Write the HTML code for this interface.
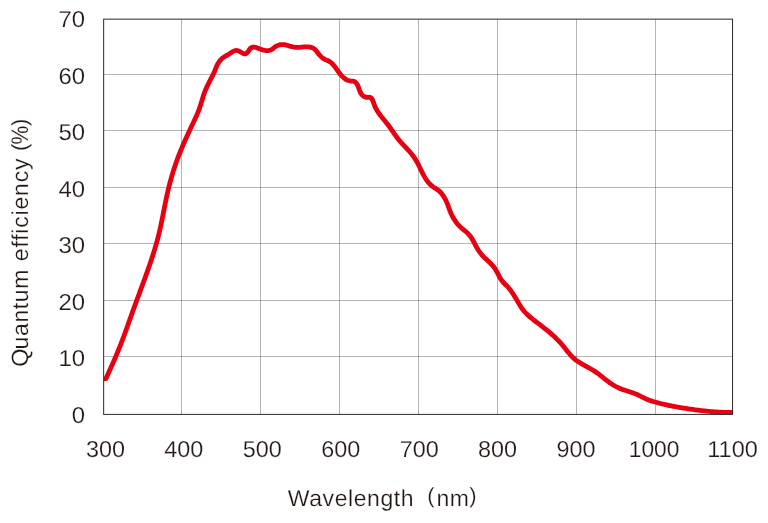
<!DOCTYPE html>
<html><head><meta charset="utf-8"><title>Quantum efficiency</title>
<style>
html,body{margin:0;padding:0;background:#fff;}
body{width:768px;height:523px;overflow:hidden;}
svg{display:block;will-change:transform;}
.t{text-rendering:geometricPrecision;font-family:"Liberation Sans",sans-serif;fill:#231815;stroke:#fff;stroke-width:0.2px;}
</style></head><body>
<svg width="768" height="523" viewBox="0 0 768 523">
<rect width="768" height="523" fill="#fff"/>
<defs><clipPath id="c"><polygon points="103.65,19.15 732.9399999999999,19.15 732.9399999999999,414.4 110,414.4 110,380.3 103.65,381.3"/></clipPath></defs>
<line x1="181.5" y1="19.15" x2="181.5" y2="414.4" stroke="#222222" stroke-width="0.34"/>
<line x1="260.5" y1="19.15" x2="260.5" y2="414.4" stroke="#222222" stroke-width="0.34"/>
<line x1="339.5" y1="19.15" x2="339.5" y2="414.4" stroke="#222222" stroke-width="0.34"/>
<line x1="418.5" y1="19.15" x2="418.5" y2="414.4" stroke="#222222" stroke-width="0.34"/>
<line x1="497.5" y1="19.15" x2="497.5" y2="414.4" stroke="#222222" stroke-width="0.34"/>
<line x1="576.5" y1="19.15" x2="576.5" y2="414.4" stroke="#222222" stroke-width="0.34"/>
<line x1="655.5" y1="19.15" x2="655.5" y2="414.4" stroke="#222222" stroke-width="0.34"/>
<line x1="103.65" y1="74.5" x2="732.54" y2="74.5" stroke="#222222" stroke-width="0.34"/>
<line x1="103.65" y1="130.5" x2="732.54" y2="130.5" stroke="#222222" stroke-width="0.34"/>
<line x1="103.65" y1="187.5" x2="732.54" y2="187.5" stroke="#222222" stroke-width="0.34"/>
<line x1="103.65" y1="243.5" x2="732.54" y2="243.5" stroke="#222222" stroke-width="0.34"/>
<line x1="103.65" y1="300.5" x2="732.54" y2="300.5" stroke="#222222" stroke-width="0.34"/>
<line x1="103.65" y1="356.5" x2="732.54" y2="356.5" stroke="#222222" stroke-width="0.34"/>
<path clip-path="url(#c)" d="M102.79 385.38 C102.92 385.09 103.33 384.20 103.61 383.60 C103.88 383.01 104.15 382.41 104.43 381.82 C104.70 381.22 104.98 380.62 105.25 380.03 C105.53 379.43 105.80 378.83 106.08 378.23 C106.35 377.63 106.63 377.03 106.91 376.43 C107.18 375.83 107.46 375.23 107.73 374.62 C108.01 374.02 108.28 373.42 108.56 372.81 C108.84 372.21 109.11 371.60 109.39 371.00 C109.66 370.39 109.94 369.79 110.21 369.18 C110.48 368.57 110.76 367.96 111.03 367.35 C111.30 366.75 111.58 366.14 111.85 365.53 C112.12 364.92 112.39 364.31 112.66 363.69 C112.93 363.08 113.20 362.47 113.47 361.86 C113.74 361.25 114.01 360.63 114.27 360.02 C114.54 359.41 114.81 358.79 115.07 358.18 C115.34 357.56 115.60 356.95 115.86 356.33 C116.12 355.71 116.38 355.10 116.64 354.48 C116.90 353.86 117.16 353.25 117.42 352.63 C117.67 352.01 117.93 351.39 118.18 350.77 C118.44 350.15 118.69 349.53 118.94 348.91 C119.19 348.29 119.44 347.67 119.68 347.05 C119.93 346.43 120.17 345.81 120.42 345.19 C120.66 344.57 120.90 343.95 121.14 343.33 C121.38 342.70 121.62 342.08 121.86 341.46 C122.10 340.84 122.33 340.21 122.57 339.59 C122.80 338.97 123.04 338.34 123.27 337.72 C123.50 337.09 123.74 336.47 123.97 335.85 C124.20 335.22 124.43 334.60 124.66 333.97 C124.88 333.35 125.11 332.72 125.34 332.10 C125.57 331.47 125.79 330.84 126.02 330.22 C126.25 329.59 126.47 328.97 126.70 328.34 C126.92 327.72 127.15 327.09 127.37 326.46 C127.59 325.84 127.82 325.21 128.04 324.58 C128.26 323.96 128.49 323.33 128.71 322.71 C128.93 322.08 129.16 321.45 129.38 320.83 C129.60 320.20 129.82 319.57 130.05 318.95 C130.27 318.32 130.49 317.69 130.71 317.07 C130.94 316.44 131.16 315.81 131.38 315.19 C131.61 314.56 131.83 313.93 132.06 313.31 C132.28 312.68 132.51 312.05 132.73 311.43 C132.96 310.80 133.18 310.17 133.41 309.55 C133.63 308.92 133.86 308.30 134.09 307.67 C134.32 307.04 134.54 306.42 134.77 305.79 C135.00 305.17 135.23 304.54 135.46 303.92 C135.69 303.29 135.92 302.66 136.15 302.04 C136.38 301.41 136.61 300.79 136.84 300.16 C137.07 299.54 137.30 298.91 137.53 298.29 C137.76 297.66 137.99 297.04 138.23 296.41 C138.46 295.78 138.69 295.16 138.92 294.53 C139.15 293.91 139.38 293.28 139.61 292.66 C139.85 292.03 140.08 291.41 140.31 290.78 C140.54 290.15 140.77 289.53 141.00 288.90 C141.23 288.28 141.46 287.65 141.69 287.02 C141.93 286.40 142.16 285.77 142.39 285.15 C142.62 284.52 142.85 283.89 143.08 283.27 C143.31 282.64 143.54 282.01 143.76 281.39 C143.99 280.76 144.22 280.13 144.45 279.50 C144.68 278.88 144.91 278.25 145.13 277.62 C145.36 276.99 145.59 276.37 145.81 275.74 C146.04 275.11 146.26 274.48 146.49 273.85 C146.71 273.23 146.94 272.60 147.16 271.97 C147.38 271.34 147.61 270.71 147.83 270.08 C148.05 269.45 148.27 268.82 148.49 268.19 C148.71 267.56 148.93 266.93 149.15 266.30 C149.37 265.67 149.58 265.04 149.80 264.41 C150.02 263.77 150.23 263.14 150.45 262.51 C150.66 261.88 150.87 261.25 151.09 260.61 C151.30 259.98 151.51 259.35 151.72 258.72 C151.93 258.08 152.13 257.45 152.34 256.81 C152.55 256.18 152.75 255.55 152.95 254.91 C153.16 254.28 153.36 253.64 153.56 253.00 C153.76 252.37 153.96 251.73 154.16 251.10 C154.35 250.46 154.55 249.82 154.74 249.18 C154.93 248.55 155.12 247.91 155.31 247.27 C155.50 246.63 155.69 245.99 155.88 245.35 C156.06 244.71 156.24 244.07 156.43 243.43 C156.61 242.79 156.78 242.15 156.96 241.51 C157.14 240.87 157.31 240.23 157.48 239.58 C157.66 238.94 157.82 238.30 157.99 237.66 C158.16 237.01 158.32 236.37 158.48 235.72 C158.65 235.08 158.81 234.43 158.96 233.79 C159.12 233.14 159.27 232.49 159.42 231.85 C159.58 231.20 159.72 230.55 159.87 229.90 C160.02 229.25 160.16 228.61 160.31 227.96 C160.45 227.31 160.59 226.66 160.73 226.01 C160.87 225.36 161.01 224.71 161.14 224.06 C161.28 223.41 161.41 222.75 161.55 222.10 C161.68 221.45 161.81 220.80 161.95 220.15 C162.08 219.50 162.21 218.84 162.34 218.19 C162.47 217.54 162.60 216.88 162.72 216.23 C162.85 215.58 162.98 214.93 163.11 214.27 C163.24 213.62 163.36 212.97 163.49 212.31 C163.62 211.66 163.74 211.00 163.87 210.35 C164.00 209.70 164.13 209.04 164.26 208.39 C164.38 207.74 164.51 207.08 164.64 206.43 C164.77 205.77 164.90 205.12 165.03 204.47 C165.16 203.81 165.29 203.16 165.43 202.51 C165.56 201.85 165.69 201.20 165.83 200.55 C165.96 199.89 166.10 199.24 166.24 198.59 C166.38 197.94 166.52 197.28 166.66 196.63 C166.80 195.98 166.94 195.33 167.09 194.67 C167.23 194.02 167.38 193.37 167.53 192.72 C167.68 192.07 167.83 191.42 167.98 190.77 C168.14 190.12 168.29 189.47 168.45 188.82 C168.61 188.17 168.77 187.52 168.93 186.87 C169.09 186.22 169.25 185.58 169.42 184.93 C169.58 184.28 169.75 183.63 169.92 182.99 C170.09 182.34 170.26 181.69 170.44 181.05 C170.61 180.40 170.79 179.76 170.97 179.12 C171.15 178.47 171.33 177.83 171.51 177.19 C171.69 176.54 171.88 175.90 172.07 175.26 C172.25 174.62 172.44 173.98 172.64 173.34 C172.83 172.70 173.03 172.06 173.22 171.42 C173.42 170.79 173.62 170.15 173.82 169.51 C174.03 168.88 174.23 168.24 174.44 167.61 C174.64 166.97 174.85 166.34 175.07 165.71 C175.28 165.07 175.50 164.44 175.71 163.81 C175.93 163.18 176.15 162.55 176.37 161.92 C176.60 161.30 176.82 160.67 177.05 160.04 C177.28 159.42 177.51 158.79 177.74 158.17 C177.98 157.54 178.21 156.92 178.45 156.30 C178.69 155.68 178.93 155.06 179.18 154.44 C179.42 153.82 179.67 153.20 179.91 152.58 C180.16 151.96 180.41 151.34 180.66 150.73 C180.92 150.11 181.17 149.50 181.43 148.88 C181.68 148.27 181.94 147.65 182.20 147.04 C182.46 146.43 182.72 145.82 182.99 145.20 C183.25 144.59 183.52 143.98 183.78 143.37 C184.05 142.76 184.32 142.15 184.59 141.54 C184.86 140.93 185.13 140.33 185.40 139.72 C185.67 139.11 185.95 138.50 186.22 137.90 C186.49 137.29 186.77 136.68 187.05 136.08 C187.32 135.47 187.60 134.87 187.88 134.26 C188.16 133.66 188.44 133.05 188.72 132.45 C189.00 131.84 189.28 131.24 189.56 130.64 C189.84 130.03 190.13 129.43 190.41 128.83 C190.69 128.22 190.97 127.62 191.26 127.02 C191.54 126.41 191.82 125.81 192.11 125.21 C192.39 124.61 192.68 124.00 192.96 123.40 C193.24 122.80 193.53 122.20 193.81 121.59 C194.10 120.99 194.38 120.39 194.66 119.79 C194.94 119.18 195.22 118.58 195.50 117.97 C195.78 117.37 196.05 116.76 196.32 116.16 C196.59 115.55 196.86 114.94 197.13 114.33 C197.39 113.71 197.65 113.10 197.90 112.48 C198.15 111.87 198.40 111.25 198.64 110.63 C198.88 110.00 199.11 109.38 199.34 108.75 C199.56 108.12 199.78 107.49 199.99 106.86 C200.20 106.22 200.41 105.58 200.61 104.94 C200.81 104.30 201.00 103.66 201.20 103.02 C201.39 102.38 201.58 101.73 201.77 101.09 C201.97 100.45 202.16 99.80 202.35 99.16 C202.54 98.52 202.74 97.88 202.94 97.24 C203.14 96.60 203.34 95.97 203.55 95.33 C203.76 94.70 203.97 94.07 204.20 93.45 C204.42 92.82 204.65 92.20 204.89 91.58 C205.14 90.97 205.38 90.36 205.64 89.75 C205.90 89.14 206.16 88.53 206.43 87.93 C206.70 87.33 206.98 86.73 207.26 86.13 C207.54 85.53 207.83 84.93 208.12 84.34 C208.41 83.74 208.71 83.15 209.01 82.55 C209.31 81.96 209.62 81.37 209.92 80.77 C210.23 80.18 210.54 79.59 210.86 78.99 C211.17 78.40 211.48 77.80 211.80 77.20 C212.11 76.60 212.42 76.01 212.72 75.40 C213.02 74.80 213.32 74.20 213.61 73.59 C213.89 72.98 214.17 72.37 214.43 71.76 C214.69 71.14 214.94 70.52 215.18 69.91 C215.43 69.29 215.66 68.67 215.91 68.05 C216.16 67.44 216.40 66.83 216.67 66.22 C216.94 65.62 217.21 65.02 217.52 64.43 C217.83 63.85 218.15 63.27 218.51 62.71 C218.87 62.15 219.27 61.59 219.68 61.07 C220.10 60.54 220.55 60.02 221.01 59.54 C221.48 59.06 221.97 58.59 222.48 58.16 C222.99 57.73 223.52 57.33 224.06 56.96 C224.60 56.60 225.16 56.28 225.72 55.96 C226.28 55.64 226.86 55.37 227.44 55.04 C228.02 54.72 228.61 54.38 229.20 54.00 C229.79 53.63 230.38 53.19 230.97 52.80 C231.57 52.40 232.16 51.97 232.76 51.63 C233.36 51.28 233.96 50.95 234.56 50.74 C235.16 50.53 235.76 50.37 236.37 50.37 C236.97 50.37 237.58 50.51 238.18 50.72 C238.79 50.93 239.40 51.28 240.00 51.62 C240.61 51.95 241.22 52.38 241.82 52.72 C242.43 53.06 243.03 53.48 243.63 53.67 C244.23 53.85 244.85 53.97 245.41 53.84 C245.98 53.72 246.56 53.34 247.04 52.92 C247.52 52.50 247.91 51.88 248.31 51.31 C248.72 50.74 249.05 50.06 249.48 49.51 C249.91 48.95 250.38 48.40 250.90 48.00 C251.43 47.61 252.03 47.30 252.63 47.15 C253.24 47.01 253.89 47.06 254.53 47.13 C255.17 47.21 255.83 47.43 256.47 47.62 C257.12 47.81 257.75 48.05 258.39 48.28 C259.02 48.51 259.65 48.77 260.29 49.01 C260.92 49.25 261.55 49.50 262.19 49.71 C262.83 49.92 263.47 50.13 264.13 50.28 C264.78 50.44 265.44 50.56 266.10 50.63 C266.77 50.69 267.44 50.71 268.09 50.66 C268.74 50.61 269.39 50.50 270.01 50.31 C270.62 50.11 271.21 49.84 271.76 49.50 C272.32 49.16 272.82 48.69 273.35 48.27 C273.88 47.85 274.38 47.37 274.94 46.98 C275.50 46.59 276.09 46.23 276.70 45.93 C277.31 45.63 277.95 45.38 278.59 45.18 C279.23 44.97 279.90 44.82 280.56 44.72 C281.21 44.62 281.88 44.58 282.54 44.58 C283.20 44.58 283.86 44.65 284.51 44.74 C285.17 44.83 285.82 44.97 286.47 45.13 C287.11 45.28 287.76 45.47 288.41 45.65 C289.05 45.83 289.69 46.04 290.34 46.23 C290.98 46.41 291.62 46.61 292.27 46.77 C292.91 46.93 293.56 47.08 294.20 47.19 C294.85 47.29 295.50 47.36 296.15 47.40 C296.80 47.44 297.46 47.44 298.12 47.43 C298.78 47.41 299.44 47.37 300.11 47.32 C300.77 47.27 301.45 47.21 302.12 47.15 C302.80 47.09 303.49 47.03 304.18 46.98 C304.86 46.94 305.56 46.89 306.25 46.88 C306.93 46.87 307.62 46.87 308.29 46.92 C308.96 46.96 309.62 47.03 310.26 47.15 C310.90 47.27 311.52 47.43 312.11 47.65 C312.70 47.87 313.27 48.14 313.80 48.48 C314.32 48.83 314.81 49.24 315.28 49.70 C315.75 50.16 316.17 50.69 316.60 51.23 C317.03 51.76 317.43 52.35 317.85 52.91 C318.27 53.47 318.68 54.06 319.12 54.60 C319.56 55.14 320.02 55.67 320.49 56.15 C320.97 56.64 321.48 57.09 321.99 57.50 C322.51 57.91 323.05 58.29 323.60 58.64 C324.15 58.98 324.72 59.29 325.29 59.56 C325.87 59.84 326.46 60.05 327.04 60.30 C327.62 60.54 328.22 60.74 328.80 61.05 C329.37 61.36 329.95 61.73 330.50 62.14 C331.04 62.56 331.57 63.05 332.07 63.53 C332.56 64.01 333.03 64.52 333.47 65.03 C333.92 65.54 334.34 66.06 334.75 66.59 C335.15 67.11 335.54 67.65 335.93 68.19 C336.31 68.73 336.68 69.27 337.06 69.81 C337.43 70.35 337.80 70.89 338.18 71.43 C338.56 71.97 338.94 72.50 339.34 73.03 C339.73 73.55 340.14 74.08 340.57 74.58 C341.00 75.09 341.45 75.59 341.92 76.07 C342.39 76.55 342.88 77.02 343.39 77.45 C343.90 77.89 344.44 78.31 345.00 78.70 C345.55 79.08 346.13 79.44 346.74 79.76 C347.34 80.08 347.97 80.38 348.61 80.60 C349.25 80.82 349.92 80.99 350.56 81.08 C351.21 81.17 351.87 81.08 352.49 81.14 C353.11 81.21 353.72 81.22 354.28 81.47 C354.84 81.72 355.37 82.16 355.84 82.63 C356.30 83.10 356.72 83.70 357.07 84.27 C357.43 84.85 357.72 85.47 358.00 86.09 C358.27 86.71 358.49 87.36 358.73 88.00 C358.96 88.64 359.16 89.29 359.40 89.93 C359.63 90.56 359.86 91.20 360.14 91.81 C360.42 92.42 360.72 93.02 361.09 93.57 C361.45 94.12 361.86 94.66 362.31 95.12 C362.77 95.58 363.27 96.00 363.83 96.33 C364.38 96.66 364.98 96.92 365.63 97.08 C366.28 97.24 367.02 97.22 367.72 97.27 C368.41 97.31 369.19 97.20 369.81 97.37 C370.42 97.54 370.97 97.88 371.42 98.31 C371.87 98.74 372.20 99.38 372.52 99.97 C372.83 100.55 373.06 101.20 373.30 101.83 C373.53 102.46 373.72 103.10 373.94 103.73 C374.16 104.36 374.37 104.99 374.62 105.61 C374.87 106.22 375.15 106.83 375.43 107.42 C375.72 108.02 376.03 108.61 376.36 109.19 C376.68 109.77 377.02 110.34 377.37 110.91 C377.73 111.47 378.10 112.03 378.47 112.59 C378.85 113.14 379.24 113.69 379.64 114.23 C380.04 114.77 380.45 115.31 380.86 115.85 C381.27 116.38 381.69 116.91 382.11 117.44 C382.53 117.97 382.96 118.49 383.38 119.02 C383.81 119.54 384.24 120.06 384.66 120.58 C385.09 121.11 385.52 121.63 385.93 122.15 C386.35 122.67 386.77 123.19 387.18 123.71 C387.59 124.24 387.99 124.76 388.39 125.29 C388.78 125.81 389.17 126.34 389.55 126.87 C389.93 127.40 390.31 127.93 390.68 128.46 C391.05 128.99 391.42 129.53 391.79 130.06 C392.16 130.59 392.53 131.13 392.89 131.66 C393.26 132.19 393.63 132.73 394.00 133.26 C394.38 133.80 394.75 134.33 395.13 134.86 C395.51 135.40 395.89 135.93 396.28 136.46 C396.67 136.99 397.07 137.52 397.47 138.05 C397.88 138.58 398.29 139.11 398.72 139.64 C399.15 140.16 399.58 140.69 400.03 141.21 C400.48 141.73 400.94 142.25 401.41 142.77 C401.87 143.28 402.35 143.80 402.83 144.31 C403.30 144.82 403.79 145.33 404.26 145.84 C404.74 146.34 405.22 146.84 405.69 147.34 C406.17 147.84 406.63 148.33 407.09 148.82 C407.55 149.32 408.00 149.80 408.44 150.29 C408.88 150.78 409.32 151.26 409.74 151.75 C410.17 152.24 410.59 152.73 411.00 153.22 C411.41 153.72 411.81 154.21 412.20 154.72 C412.60 155.22 412.98 155.73 413.36 156.25 C413.74 156.77 414.11 157.29 414.47 157.83 C414.83 158.37 415.18 158.91 415.53 159.47 C415.87 160.03 416.21 160.61 416.54 161.19 C416.87 161.77 417.19 162.36 417.51 162.96 C417.83 163.56 418.14 164.17 418.45 164.78 C418.75 165.39 419.06 166.00 419.36 166.62 C419.66 167.24 419.96 167.86 420.26 168.47 C420.55 169.09 420.85 169.71 421.15 170.32 C421.44 170.94 421.74 171.55 422.04 172.15 C422.33 172.76 422.63 173.36 422.93 173.95 C423.24 174.54 423.54 175.12 423.85 175.69 C424.16 176.26 424.47 176.82 424.80 177.37 C425.12 177.93 425.46 178.47 425.81 179.01 C426.17 179.55 426.53 180.08 426.93 180.61 C427.32 181.14 427.73 181.67 428.17 182.20 C428.61 182.72 429.09 183.25 429.58 183.76 C430.06 184.26 430.58 184.77 431.10 185.24 C431.62 185.70 432.17 186.15 432.71 186.56 C433.25 186.97 433.80 187.32 434.35 187.67 C434.90 188.02 435.45 188.32 435.98 188.66 C436.52 189.00 437.05 189.32 437.57 189.69 C438.08 190.06 438.58 190.46 439.06 190.89 C439.54 191.32 440.01 191.78 440.46 192.26 C440.91 192.74 441.34 193.25 441.76 193.77 C442.18 194.29 442.59 194.84 442.97 195.40 C443.36 195.96 443.73 196.54 444.09 197.13 C444.44 197.71 444.79 198.32 445.11 198.92 C445.43 199.53 445.74 200.15 446.03 200.76 C446.33 201.38 446.60 202.00 446.86 202.62 C447.13 203.24 447.37 203.86 447.61 204.48 C447.85 205.10 448.08 205.72 448.30 206.34 C448.53 206.96 448.75 207.58 448.98 208.19 C449.20 208.81 449.43 209.43 449.66 210.04 C449.90 210.66 450.14 211.27 450.40 211.88 C450.65 212.49 450.92 213.10 451.20 213.71 C451.47 214.31 451.76 214.92 452.07 215.51 C452.37 216.11 452.68 216.70 453.01 217.29 C453.33 217.87 453.67 218.45 454.02 219.02 C454.37 219.59 454.73 220.16 455.11 220.72 C455.48 221.27 455.87 221.82 456.27 222.35 C456.67 222.89 457.08 223.42 457.51 223.93 C457.93 224.45 458.37 224.95 458.82 225.44 C459.28 225.93 459.74 226.41 460.22 226.87 C460.70 227.34 461.20 227.78 461.70 228.22 C462.20 228.66 462.73 229.08 463.24 229.50 C463.76 229.92 464.29 230.33 464.81 230.75 C465.33 231.17 465.85 231.59 466.35 232.03 C466.86 232.46 467.36 232.90 467.83 233.37 C468.30 233.83 468.76 234.32 469.20 234.82 C469.63 235.33 470.05 235.86 470.45 236.40 C470.84 236.94 471.22 237.50 471.59 238.07 C471.95 238.64 472.30 239.22 472.64 239.80 C472.98 240.39 473.31 240.98 473.63 241.57 C473.94 242.16 474.25 242.76 474.56 243.34 C474.86 243.93 475.16 244.52 475.46 245.11 C475.76 245.69 476.06 246.27 476.37 246.85 C476.69 247.43 477.00 248.00 477.33 248.57 C477.66 249.13 478.00 249.70 478.37 250.25 C478.73 250.81 479.11 251.36 479.51 251.90 C479.91 252.44 480.33 252.98 480.76 253.50 C481.19 254.03 481.63 254.55 482.08 255.06 C482.54 255.56 483.00 256.06 483.47 256.55 C483.94 257.04 484.42 257.52 484.89 257.98 C485.37 258.45 485.85 258.91 486.34 259.37 C486.82 259.82 487.30 260.27 487.78 260.72 C488.26 261.17 488.74 261.62 489.21 262.07 C489.69 262.53 490.16 262.98 490.62 263.45 C491.08 263.92 491.53 264.39 491.98 264.87 C492.42 265.36 492.86 265.85 493.28 266.37 C493.70 266.88 494.11 267.41 494.51 267.96 C494.90 268.51 495.28 269.09 495.65 269.67 C496.01 270.26 496.36 270.88 496.69 271.49 C497.03 272.10 497.36 272.73 497.67 273.35 C497.99 273.96 498.29 274.58 498.60 275.17 C498.90 275.76 499.19 276.34 499.49 276.90 C499.80 277.46 500.09 278.00 500.42 278.53 C500.75 279.06 501.08 279.57 501.45 280.08 C501.82 280.59 502.23 281.08 502.65 281.57 C503.07 282.07 503.52 282.55 503.98 283.04 C504.44 283.52 504.92 284.00 505.39 284.49 C505.87 284.98 506.35 285.46 506.83 285.96 C507.30 286.45 507.77 286.95 508.23 287.46 C508.68 287.98 509.12 288.50 509.55 289.03 C509.98 289.55 510.40 290.09 510.80 290.64 C511.21 291.18 511.60 291.73 511.99 292.29 C512.38 292.84 512.75 293.41 513.12 293.97 C513.49 294.54 513.85 295.11 514.21 295.68 C514.57 296.26 514.92 296.83 515.26 297.41 C515.61 297.99 515.95 298.56 516.29 299.14 C516.63 299.72 516.97 300.30 517.30 300.87 C517.64 301.45 517.97 302.02 518.31 302.59 C518.65 303.17 518.98 303.73 519.32 304.30 C519.66 304.86 520.01 305.42 520.36 305.97 C520.71 306.53 521.07 307.07 521.43 307.61 C521.80 308.15 522.17 308.69 522.56 309.21 C522.95 309.73 523.35 310.25 523.76 310.75 C524.18 311.26 524.61 311.75 525.05 312.24 C525.49 312.72 525.94 313.20 526.41 313.67 C526.87 314.14 527.35 314.60 527.83 315.05 C528.31 315.50 528.81 315.95 529.31 316.39 C529.81 316.83 530.32 317.27 530.84 317.70 C531.35 318.13 531.88 318.55 532.40 318.98 C532.93 319.40 533.46 319.82 534.00 320.23 C534.53 320.65 535.07 321.06 535.61 321.47 C536.15 321.88 536.69 322.29 537.23 322.69 C537.77 323.10 538.31 323.51 538.85 323.92 C539.39 324.32 539.93 324.73 540.46 325.14 C541.00 325.55 541.53 325.95 542.06 326.36 C542.60 326.77 543.12 327.18 543.65 327.60 C544.18 328.01 544.70 328.42 545.22 328.84 C545.74 329.25 546.26 329.67 546.78 330.09 C547.29 330.51 547.81 330.93 548.32 331.35 C548.83 331.78 549.33 332.20 549.84 332.63 C550.34 333.06 550.84 333.50 551.34 333.93 C551.83 334.37 552.33 334.81 552.82 335.25 C553.31 335.69 553.79 336.14 554.27 336.59 C554.76 337.04 555.24 337.49 555.71 337.95 C556.19 338.41 556.66 338.87 557.12 339.34 C557.59 339.80 558.05 340.28 558.51 340.75 C558.97 341.23 559.42 341.71 559.87 342.20 C560.32 342.69 560.77 343.18 561.21 343.68 C561.65 344.18 562.09 344.68 562.52 345.19 C562.95 345.71 563.38 346.22 563.80 346.74 C564.22 347.27 564.64 347.80 565.06 348.32 C565.48 348.85 565.89 349.39 566.31 349.92 C566.73 350.45 567.14 350.98 567.57 351.51 C567.99 352.03 568.41 352.56 568.84 353.08 C569.27 353.60 569.70 354.11 570.14 354.61 C570.59 355.12 571.03 355.61 571.49 356.09 C571.95 356.58 572.42 357.05 572.90 357.51 C573.38 357.97 573.87 358.41 574.38 358.84 C574.89 359.27 575.41 359.68 575.93 360.07 C576.46 360.47 577.01 360.86 577.55 361.23 C578.10 361.61 578.66 361.97 579.23 362.32 C579.79 362.68 580.36 363.02 580.94 363.36 C581.51 363.71 582.10 364.04 582.68 364.37 C583.26 364.70 583.85 365.02 584.43 365.35 C585.02 365.67 585.60 366.00 586.19 366.32 C586.77 366.64 587.35 366.97 587.93 367.29 C588.52 367.62 589.10 367.95 589.67 368.28 C590.25 368.61 590.82 368.94 591.39 369.28 C591.96 369.62 592.53 369.96 593.09 370.31 C593.66 370.66 594.22 371.02 594.77 371.38 C595.32 371.74 595.87 372.11 596.42 372.49 C596.96 372.87 597.50 373.26 598.03 373.65 C598.57 374.04 599.10 374.44 599.62 374.84 C600.15 375.25 600.68 375.66 601.20 376.07 C601.73 376.47 602.25 376.89 602.77 377.30 C603.29 377.71 603.81 378.13 604.33 378.54 C604.86 378.96 605.38 379.37 605.90 379.78 C606.43 380.19 606.95 380.60 607.48 381.00 C608.01 381.40 608.55 381.80 609.08 382.19 C609.62 382.58 610.16 382.97 610.71 383.35 C611.26 383.73 611.81 384.10 612.37 384.46 C612.93 384.82 613.49 385.17 614.06 385.51 C614.64 385.85 615.22 386.17 615.81 386.49 C616.40 386.80 617.00 387.10 617.61 387.39 C618.21 387.68 618.83 387.95 619.45 388.21 C620.08 388.48 620.71 388.73 621.34 388.97 C621.97 389.21 622.61 389.45 623.25 389.67 C623.89 389.90 624.53 390.12 625.17 390.33 C625.81 390.55 626.46 390.76 627.09 390.97 C627.73 391.18 628.36 391.38 628.99 391.59 C629.62 391.80 630.25 392.00 630.87 392.21 C631.49 392.42 632.10 392.63 632.72 392.85 C633.33 393.07 633.94 393.29 634.55 393.51 C635.15 393.74 635.76 393.98 636.36 394.23 C636.97 394.47 637.57 394.73 638.17 394.99 C638.78 395.26 639.38 395.54 639.98 395.84 C640.58 396.13 641.19 396.45 641.79 396.77 C642.40 397.08 643.00 397.41 643.61 397.73 C644.22 398.04 644.83 398.36 645.45 398.65 C646.06 398.94 646.68 399.22 647.31 399.47 C647.93 399.73 648.55 399.97 649.18 400.20 C649.81 400.43 650.44 400.64 651.07 400.85 C651.70 401.05 652.34 401.25 652.97 401.44 C653.61 401.63 654.24 401.81 654.88 401.99 C655.52 402.17 656.16 402.35 656.80 402.52 C657.44 402.70 658.08 402.87 658.72 403.03 C659.36 403.20 660.00 403.36 660.64 403.52 C661.29 403.69 661.93 403.84 662.57 404.00 C663.22 404.15 663.87 404.30 664.51 404.45 C665.16 404.60 665.81 404.74 666.45 404.89 C667.10 405.03 667.75 405.17 668.40 405.30 C669.05 405.44 669.70 405.58 670.35 405.71 C671.00 405.84 671.65 405.97 672.31 406.10 C672.96 406.22 673.61 406.35 674.26 406.47 C674.92 406.59 675.57 406.71 676.23 406.83 C676.88 406.95 677.54 407.07 678.19 407.18 C678.85 407.30 679.51 407.41 680.16 407.52 C680.82 407.63 681.48 407.74 682.14 407.85 C682.80 407.96 683.45 408.06 684.11 408.17 C684.77 408.27 685.43 408.37 686.09 408.48 C686.75 408.58 687.41 408.68 688.07 408.78 C688.73 408.88 689.40 408.97 690.06 409.07 C690.72 409.17 691.38 409.26 692.04 409.36 C692.70 409.45 693.37 409.54 694.03 409.63 C694.69 409.72 695.36 409.81 696.02 409.90 C696.68 409.99 697.35 410.07 698.01 410.16 C698.68 410.24 699.34 410.33 700.00 410.41 C700.67 410.49 701.33 410.56 702.00 410.64 C702.66 410.72 703.33 410.79 703.99 410.86 C704.66 410.94 705.32 411.01 705.99 411.08 C706.65 411.14 707.32 411.21 707.98 411.27 C708.65 411.34 709.31 411.40 709.98 411.46 C710.64 411.52 711.31 411.57 711.97 411.63 C712.64 411.68 713.30 411.73 713.97 411.78 C714.63 411.83 715.30 411.87 715.96 411.92 C716.63 411.96 717.29 412.00 717.96 412.04 C718.62 412.08 719.29 412.11 719.95 412.14 C720.62 412.17 721.28 412.20 721.95 412.23 C722.61 412.25 723.27 412.28 723.94 412.30 C724.60 412.32 725.27 412.33 725.93 412.34 C726.59 412.36 727.26 412.37 727.92 412.37 C728.58 412.38 729.24 412.38 729.91 412.38 C730.57 412.38 731.23 412.38 731.89 412.37 C732.55 412.36 733.21 412.35 733.87 412.33 C734.53 412.32 735.19 412.30 735.85 412.27 C736.51 412.25 737.50 412.21 737.83 412.19" fill="none" stroke="#e60012" stroke-width="4.8" stroke-linejoin="round" stroke-linecap="butt"/>
<rect x="103.65" y="19.15" width="628.89" height="395.25" fill="none" stroke="#2c2828" stroke-width="1.0"/>
<text class="t" transform="translate(85.10,26.95) scale(1.04,1)" text-anchor="end" style="font-size:23.0px;">70</text>
<text class="t" transform="translate(85.10,83.53) scale(1.04,1)" text-anchor="end" style="font-size:23.0px;">60</text>
<text class="t" transform="translate(85.10,140.11) scale(1.04,1)" text-anchor="end" style="font-size:23.0px;">50</text>
<text class="t" transform="translate(85.10,196.69) scale(1.04,1)" text-anchor="end" style="font-size:23.0px;">40</text>
<text class="t" transform="translate(85.10,253.27) scale(1.04,1)" text-anchor="end" style="font-size:23.0px;">30</text>
<text class="t" transform="translate(85.10,309.85) scale(1.04,1)" text-anchor="end" style="font-size:23.0px;">20</text>
<text class="t" transform="translate(85.10,366.43) scale(1.04,1)" text-anchor="end" style="font-size:23.0px;">10</text>
<text class="t" transform="translate(85.10,423.01) scale(1.04,1)" text-anchor="end" style="font-size:23.0px;">0</text>
<text class="t" transform="translate(105.40,457.20) scale(1.017,1)" text-anchor="middle" style="font-size:23.0px;">300</text>
<text class="t" transform="translate(183.84,457.20) scale(1.017,1)" text-anchor="middle" style="font-size:23.0px;">400</text>
<text class="t" transform="translate(262.28,457.20) scale(1.017,1)" text-anchor="middle" style="font-size:23.0px;">500</text>
<text class="t" transform="translate(340.72,457.20) scale(1.017,1)" text-anchor="middle" style="font-size:23.0px;">600</text>
<text class="t" transform="translate(419.16,457.20) scale(1.017,1)" text-anchor="middle" style="font-size:23.0px;">700</text>
<text class="t" transform="translate(497.60,457.20) scale(1.017,1)" text-anchor="middle" style="font-size:23.0px;">800</text>
<text class="t" transform="translate(576.04,457.20) scale(1.017,1)" text-anchor="middle" style="font-size:23.0px;">900</text>
<text class="t" transform="translate(654.08,457.20) scale(0.99,1)" text-anchor="middle" style="font-size:23.0px;">1000</text>
<text class="t" transform="translate(732.52,457.20) scale(1.02,1)" text-anchor="middle" style="font-size:23.0px;">1100</text>
<text class="t" transform="translate(287.80,505.60) scale(1.0,1)" text-anchor="start" style="font-size:23px;letter-spacing:0.57px;">Wavelength</text>
<text class="t" transform="translate(427.30,503.20) scale(1.0,1)" text-anchor="start" style="font-size:22px;">(</text>
<text class="t" transform="translate(436.40,505.60) scale(1.0,1)" text-anchor="start" style="font-size:23px;letter-spacing:0.5px;">nm</text>
<text class="t" transform="translate(469.20,503.20) scale(1.0,1)" text-anchor="start" style="font-size:22px;">)</text>
<g transform="translate(28.2,367) rotate(-90)"><text class="t" transform="translate(0.20,0.00) scale(1.0,1)" text-anchor="start" style="font-size:23.6px;">Q</text><text class="t" transform="translate(17.60,0.00) scale(1.0,1)" text-anchor="start" style="font-size:23px;letter-spacing:0.6px;">uantum</text><text class="t" transform="translate(105.80,0.00) scale(1.0,1)" text-anchor="start" style="font-size:23px;letter-spacing:0.8px;">efficiency</text><text class="t" transform="translate(216.00,-1.20) scale(1.0,1)" text-anchor="start" style="font-size:22px;">(</text><text class="t" transform="translate(222.40,0.00) scale(0.88,1)" text-anchor="start" style="font-size:24px;">%</text><text class="t" transform="translate(240.90,-1.20) scale(1.0,1)" text-anchor="start" style="font-size:22px;">)</text></g>
</svg>
</body></html>
